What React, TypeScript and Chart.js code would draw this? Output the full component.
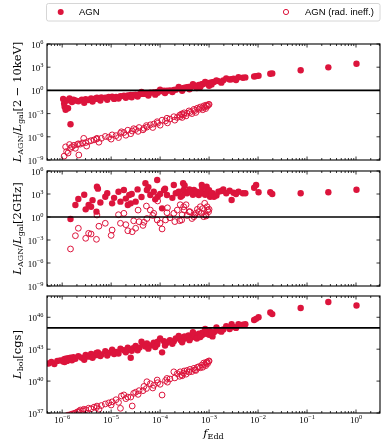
import React, { useEffect, useRef } from "react";
import { Chart, registerables } from "chart.js";

Chart.register(...registerables);

// ---------------- data (log10 values) ----------------
// AGN (filled circles): log10 f_Edd
const agnLogFEdd = [
  -6.28, -6.22, -6.16, -6.1, -6.04, -5.98, -5.96, -5.95, -5.93, -5.9, -5.88, -5.85, -5.83, -5.8, -5.77, -5.73,
  -5.67, -5.6, -5.52, -5.46, -5.41, -5.35, -5.3, -5.29, -5.27, -5.2, -5.12, -5.05, -4.98, -4.9, -4.81, -4.74,
  -4.66, -4.63, -4.6, -4.55, -4.5, -4.42, -4.35, -4.3, -4.27, -4.2, -4.13, -4.06, -4.05, -3.96, -3.92, -3.86,
  -3.8, -3.72, -3.68, -3.58, -3.53, -3.52, -3.5, -3.45, -3.42, -3.36, -3.31, -3.29, -3.21, -3.15, -3.14, -3.12,
  -3.05, -3.04, -2.98, -2.93, -2.9, -2.81, -2.71, -2.58, -2.54, -2.5, -2.31, -2.26, -2.08, -2.04, -1.99, -1.75,
  -1.71, -1.13, -0.565, 0.01,
  -5.55, -5.38, -5.22, -5.08, -4.94, -4.85, -4.7, -4.58, -4.46, -4.38, -4.24, -4.1, -4.0, -3.9, -3.75, -3.62,
  -3.55, -3.4, -3.33, -3.25, -3.18, -3.08, -3.0, -2.95, -2.85, -2.75, -2.65, -2.45, -2.4,
];
// log10 L_AGN / L_gal [2-10 keV]
const agnLogXray = [
  null, null, null, null, null, -1.1, -1.7, -2.1, -2.5, -1.3, -2.3, -1.05, -4.38, -1.5, -1.2, -1.3,
  -1.4, -1.2, -1.15, -1.25, -1.05, -1.1, -1.0, -0.95, -1.1, -0.9, -0.95, -0.85, -0.8, -0.85, -0.75, -0.7,
  -0.65, -0.75, -0.6, -0.6, -0.55, -0.5, -0.45, -0.4, -0.45, -0.3, -0.25, -0.2, -0.3, -0.1, -0.05, -0.05,
  0.0, 0.05, 0.1, 0.2, 0.3, 0.25, 0.35, 0.4, 0.45, 0.5, 0.55, 0.6, 0.7, 0.8, 0.75, 0.85,
  0.95, 0.9, 1.0, 1.05, 1.1, 1.2, 1.3, 1.4, 1.45, 1.5, 1.64, 1.68, 1.8, 1.85, 1.9, 2.15,
  2.2, 2.6, 2.98, 3.45,
  -1.6, -1.45, -1.3, -1.2, -1.1, -1.05, -0.95, -0.9, -0.8, -0.2, -0.65, -0.55, 0.1, -0.35, -0.2, 0.45,
  -0.05, 0.15, 0.8, 0.3, 0.45, 1.1, 0.6, 0.75, 1.3, 1.0, 1.55, 1.35, 1.7,
];
// log10 L_AGN / L_gal [2 GHz]
const agnLogRadio = [
  null, null, null, null, null, null, null, null, null, null, null, null, -0.26, null, null, 1.57,
  2.35, null, 1.0, 1.57, 1.34, null, 0.7, 3.95, 3.7, null, 2.65, null, 1.78, null, 2.0, 3.52,
  1.57, 2.87, 1.78, null, 2.0, null, null, 4.4, 3.52, 2.87, 3.3, 4.83, 2.65, 1.13, 3.52, 2.87,
  null, 4.17, 3.09, 2.65, 4.4, 3.52, 4.1, 3.09, 3.3, null, 3.52, 3.09, 2.87, 4.17, 3.8, 3.09,
  3.95, 3.3, 2.65, 3.09, 2.65, 3.3, 3.6, 3.43, 2.22, 3.17, 3.09, 3.09, 3.82, 4.17, 3.22, 3.22,
  3.0, 3.09, 3.22, 3.56,
  2.9, 2.2, 1.9, 3.1, 2.5, 3.3, 2.4, 3.0, 3.6, 2.6, 3.9, 2.3, 3.0, 3.7, 2.5, 3.3,
  2.8, 3.6, 2.9, 3.3, 3.2, 2.9, 3.5, 3.0, 2.8, 3.4, 3.1, 3.0, 3.3,
];
// log10 L_bol [cgs]
const agnLogLbol = [
  41.65, 41.8, 41.6, 41.9, 41.95, 41.85, 42.05, 41.8, 42.1, 41.9, 42.15, 42.0, 42.2, 41.95, 42.25, 42.1,
  42.35, 42.2, 42.45, 42.3, 42.55, 42.4, 42.65, 42.45, 42.7, 42.5, 42.8, 42.65, 42.95, 42.75, 43.05, 42.9,
  43.15, 42.95, 42.2, 43.1, 43.3, 43.15, 43.45, 43.25, 43.55, 43.35, 43.6, 43.45, 43.7, 42.7, 43.75, 43.6,
  43.85, 43.75, 44.0, 43.85, 44.1, 43.95, 44.2, 44.05, 44.3, 44.1, 44.35, 44.2, 44.45, 44.3, 44.55, 44.4,
  44.6, 44.45, 44.7, 44.2, 44.6, 44.75, 44.85, 44.9, 45.35, 45.1, 45.3, 45.35, 45.75, 45.85, 46.0, 46.45,
  46.3, 46.87, 47.43, 47.1,
  42.0, 42.2, 42.35, 42.4, 42.55, 42.6, 42.7, 42.85, 42.9, 43.7, 43.05, 43.2, 44.0, 43.35, 43.5, 44.25,
  43.65, 43.85, 44.6, 44.0, 44.15, 44.9, 44.35, 44.5, 45.05, 44.65, 45.15, 45.0, 45.35,
];

// AGN (rad. ineff., open circles): log10 f_Edd
const riLogFEdd = [
  -5.96, -5.93, -5.91, -5.88, -5.85, -5.83, -5.8, -5.76, -5.73, -5.69, -5.67, -5.66, -5.63, -5.58, -5.56, -5.52,
  -5.46, -5.41, -5.35, -5.3, -5.29, -5.2, -5.12, -5.05, -4.98, -4.9, -4.81, -4.79, -4.74, -4.66, -4.57, -4.54,
  -4.5, -4.43, -4.33, -4.28, -4.27, -4.2, -4.13, -4.06, -4.05, -3.96, -3.89, -3.86, -3.8, -3.72, -3.65, -3.6,
  -3.59, -3.56, -3.52, -3.51, -3.45, -3.41, -3.39, -3.31, -3.29, -3.24, -3.21, -3.18, -3.15, -3.11, -3.09, -3.06,
  -3.04, -3.01, -3.03, -3.0,
  -5.5, -5.25, -5.0, -4.85, -4.7, -4.6, -4.45, -4.35, -4.15, -4.0, -3.85, -3.7, -3.55, -3.47, -3.35, -3.27,
  -3.13, -3.07,
];
const riLogXray = [
  -8.5, -7.3, -7.9, -8.1, -7.0, -7.5, -7.28, -7.1, -7.49, -7.0, -6.9, -8.35, -6.95, -6.8, -6.2, -6.75,
  -6.6, -6.5, -6.4, -6.3, -6.2, -6.2, -5.95, -6.05, -5.75, -5.85, -5.55, -5.35, -5.45, -5.15, -5.25, -4.95,
  -5.05, -4.8, -4.9, -4.55, -4.75, -4.45, -4.35, -4.05, -4.25, -3.85, -3.95, -3.6, -3.7, -3.4, -3.5, -3.2,
  -3.4, -3.05, -3.15, -2.9, -2.95, -2.65, -2.85, -2.45, -2.6, -2.3, -2.45, -2.15, -2.3, -2.0, -2.15, -1.9,
  -2.05, -1.85, -1.95, -1.8,
  -7.2, -6.7, -6.3, -6.1, -5.8, -5.6, -5.3, -5.1, -4.8, -4.5, -4.2, -3.85, -3.5, -3.3, -3.0, -2.85,
  -2.5, -2.35,
];
const riLogRadio = [
  null, null, null, null, null, -4.17, null, null, -2.44, null, -1.47, null, null, null, null, -2.78,
  -2.13, -2.22, null, -2.91, 0.26, null, -0.82, null, -1.7, null, -0.82, null, 0.48, -1.79, -1.92, -0.5,
  -1.47, -0.61, -0.69, 1.43, -0.2, 0.9, 0.48, -0.39, 2.09, -1.56, -0.39, 0.56, -0.1, 0.48, 0.9, -0.48,
  1.6, -0.39, 1.34, 0.91, 0.2, 0.69, 0.69, 0.04, 0.26, 1.0, 0.69, 1.34, 0.48, 0.04, 1.79, 0.13,
  1.34, 0.69, 0.91, 1.0,
  null, -1.2, -2.4, 0.3, -1.0, null, 0.9, -1.1, 0.2, -0.8, 1.2, -0.6, 0.3, 1.6, -0.2, 0.5,
  1.1, 0.3,
];
const riLogLbol = [
  36.6, 36.7, 36.65, 36.8, 36.75, 36.85, 36.9, 36.95, 37.0, 37.1, 37.05, 37.15, 37.28, 37.2, 37.35, 37.3,
  37.45, 37.4, 37.55, 37.5, 37.65, 37.7, 37.85, 37.95, 38.05, 38.25, 37.44, 38.6, 38.7, 38.5, 37.66, 38.85,
  38.95, 39.1, 39.5, 39.3, 39.94, 39.75, 39.6, 40.1, 39.85, 38.69, 40.05, 40.25, 40.2, 40.87, 40.7, 40.45,
  40.87, 40.6, 40.75, 40.95, 41.0, 40.85, 41.1, 41.2, 41.05, 41.3, 41.35, 41.25, 41.5, 41.7, 41.55, 41.75,
  41.8, 41.85, 41.65, 41.9,
  37.0, 37.35, 37.75, 38.0, 38.35, 38.5, 38.75, 39.1, 39.35, 39.7, 39.9, 40.3, 40.5, 40.65, 40.9, 41.0,
  41.3, 41.45,
];

// axis ticks (exponents of 10) and reference lines
const xTickExps = [-6, -5, -4, -3, -2, -1, 0];
const ratioTickExps = [-9, -6, -3, 0, 3, 6];
const lbolTickExps = [37, 40, 43, 46];
const ratioUnity = 1;
const lbolLine = 1e45;
const legendLabels = ["AGN", "AGN (rad. ineff.)"];

// ---------------- styling ----------------
const CRIMSON = "#dc143c";
const SERIF = '"Liberation Serif", "DejaVu Serif", serif';
const TITLE_SERIF = '"DejaVu Serif", "Liberation Serif", serif';
const SANS = '"Liberation Sans", "DejaVu Sans", sans-serif';
const X_MIN = 10 ** -6.31;
const X_MAX = 10 ** 0.49;

type Seg = { t: string; size: number; italic?: boolean; dy?: number; fam?: string };

function segFont(s: Seg) {
  return `${s.italic ? "italic " : ""}${s.size}px ${s.fam || SERIF}`;
}

function drawRich(ctx: CanvasRenderingContext2D, segs: Seg[], x: number, y: number, align: "left" | "center" | "right") {
  let w = 0;
  const ws = segs.map((s) => {
    ctx.font = segFont(s);
    const m = ctx.measureText(s.t).width;
    w += m;
    return m;
  });
  let cx = align === "center" ? x - w / 2 : align === "right" ? x - w : x;
  ctx.textAlign = "left";
  ctx.textBaseline = "alphabetic";
  segs.forEach((s, i) => {
    ctx.font = segFont(s);
    ctx.fillText(s.t, cx, y + (s.dy || 0));
    cx += ws[i];
  });
}

function powSegs(e: number): Seg[] {
  return [
    { t: "10", size: 9 },
    { t: (e < 0 ? "\u2212" : "") + Math.abs(e), size: 6.4, dy: -4 },
  ];
}

const T = 11.5;
const S = 8;
const SD = 2.4;
const titleXray: Seg[] = [
  { t: "L", size: T, italic: true, fam: TITLE_SERIF },
  { t: "AGN", size: S, dy: SD, fam: TITLE_SERIF },
  { t: "/", size: T, fam: TITLE_SERIF },
  { t: "L", size: T, italic: true, fam: TITLE_SERIF },
  { t: "gal", size: S, dy: SD, fam: TITLE_SERIF },
  { t: "[2 \u2212 10keV]", size: T, fam: TITLE_SERIF },
];
const titleRadio: Seg[] = [
  { t: "L", size: T, italic: true, fam: TITLE_SERIF },
  { t: "AGN", size: S, dy: SD, fam: TITLE_SERIF },
  { t: "/", size: T, fam: TITLE_SERIF },
  { t: "L", size: T, italic: true, fam: TITLE_SERIF },
  { t: "gal", size: S, dy: SD, fam: TITLE_SERIF },
  { t: "[2GHz]", size: T, fam: TITLE_SERIF },
];
const titleLbol: Seg[] = [
  { t: "L", size: T, italic: true, fam: TITLE_SERIF },
  { t: "bol", size: S, dy: SD, fam: TITLE_SERIF },
  { t: "[cgs]", size: T, fam: TITLE_SERIF },
];
const titleX: Seg[] = [
  { t: "f", size: T, italic: true, fam: TITLE_SERIF },
  { t: "Edd", size: S, dy: SD, fam: TITLE_SERIF },
];

function pts(lx: number[], ly: (number | null)[]) {
  const out: { x: number; y: number }[] = [];
  lx.forEach((v, i) => {
    const w = ly[i];
    if (w !== null && w !== undefined) out.push({ x: 10 ** v, y: 10 ** w });
  });
  return out;
}

type Panel = {
  top: number;
  height: number;
  padTop: number;
  padBottom: number;
  yMin: number;
  yMax: number;
  yTicks: number[];
  hline: number;
  title: Seg[];
  filled: { x: number; y: number }[];
  open: { x: number; y: number }[];
  showX: boolean;
  legend: boolean;
};

const panels: Panel[] = [
  {
    top: 0, height: 172, padTop: 44, padBottom: 12, yMin: 1e-9, yMax: 1e6, yTicks: ratioTickExps, hline: ratioUnity,
    title: titleXray, filled: pts(agnLogFEdd, agnLogXray), open: pts(riLogFEdd, riLogXray), showX: false, legend: true,
  },
  {
    top: 155, height: 140, padTop: 16, padBottom: 9, yMin: 1e-9, yMax: 1e6, yTicks: ratioTickExps, hline: ratioUnity,
    title: titleRadio, filled: pts(agnLogFEdd, agnLogRadio), open: pts(riLogFEdd, riLogRadio), showX: false, legend: false,
  },
  {
    top: 282, height: 166, padTop: 14, padBottom: 35, yMin: 1e37, yMax: 1e48, yTicks: lbolTickExps, hline: lbolLine,
    title: titleLbol, filled: pts(agnLogFEdd, agnLogLbol), open: pts(riLogFEdd, riLogLbol), showX: true, legend: false,
  },
];

function decorPlugin(p: Panel) {
  return {
    id: "panelDecor",
    afterDatasetsDraw(chart: any) {
      const ctx: CanvasRenderingContext2D = chart.ctx;
      const a = chart.chartArea;
      const xs = chart.scales.x;
      const ys = chart.scales.y;
      ctx.save();
      ctx.strokeStyle = "#000";
      ctx.fillStyle = "#000";

      // reference line
      const hy = ys.getPixelForValue(p.hline);
      ctx.lineWidth = 1.6;
      ctx.beginPath();
      ctx.moveTo(a.left, hy);
      ctx.lineTo(a.right, hy);
      ctx.stroke();

      // frame
      ctx.lineWidth = 1.1;
      ctx.strokeRect(a.left, a.top, a.right - a.left, a.bottom - a.top);

      // x ticks (inward, top & bottom)
      ctx.lineWidth = 0.8;
      ctx.beginPath();
      for (let k = -7; k <= 0; k++) {
        for (let m = 1; m <= 9; m++) {
          const v = m * 10 ** k;
          if (v < X_MIN || v > X_MAX) continue;
          const px = xs.getPixelForValue(v);
          const len = m === 1 ? 3.5 : 2;
          ctx.moveTo(px, a.bottom);
          ctx.lineTo(px, a.bottom - len);
          ctx.moveTo(px, a.top);
          ctx.lineTo(px, a.top + len);
        }
      }
      // y ticks (inward, left & right)
      p.yTicks.forEach((e) => {
        const py = ys.getPixelForValue(10 ** e);
        ctx.moveTo(a.left, py);
        ctx.lineTo(a.left + 3.5, py);
        ctx.moveTo(a.right, py);
        ctx.lineTo(a.right - 3.5, py);
      });
      ctx.stroke();

      // y tick labels
      p.yTicks.forEach((e) => {
        const py = ys.getPixelForValue(10 ** e);
        drawRich(ctx, powSegs(e), a.left - 3.5, py + 4, "right");
      });

      // x tick labels + title
      if (p.showX) {
        xTickExps.forEach((e) => {
          const px = xs.getPixelForValue(10 ** e);
          drawRich(ctx, powSegs(e), px, a.bottom + 10, "center");
        });
        drawRich(ctx, titleX, (a.left + a.right) / 2, a.bottom + 23.5, "center");
      }

      // y title (rotated)
      ctx.save();
      ctx.translate(20.5, (a.top + a.bottom) / 2);
      ctx.rotate(-Math.PI / 2);
      drawRich(ctx, p.title, 0, 0, "center");
      ctx.restore();

      // legend
      if (p.legend) {
        ctx.beginPath();
        (ctx as any).roundRect(46.5, 3.5, 333.5, 17.5, 2);
        ctx.fillStyle = "#fff";
        ctx.fill();
        ctx.strokeStyle = "#cccccc";
        ctx.lineWidth = 0.8;
        ctx.stroke();
        ctx.fillStyle = CRIMSON;
        ctx.beginPath();
        ctx.arc(60.7, 12, 3, 0, Math.PI * 2);
        ctx.fill();
        ctx.strokeStyle = CRIMSON;
        ctx.lineWidth = 1;
        ctx.beginPath();
        ctx.arc(286, 12, 2.6, 0, Math.PI * 2);
        ctx.stroke();
        ctx.fillStyle = "#000";
        ctx.font = `9.5px ${SANS}`;
        ctx.textAlign = "left";
        ctx.textBaseline = "alphabetic";
        ctx.fillText(legendLabels[0], 79, 15.3);
        ctx.fillText(legendLabels[1], 305, 15.3);
      }
      ctx.restore();
    },
  };
}

function makeChart(canvas: HTMLCanvasElement, p: Panel) {
  return new Chart(canvas, {
    type: "scatter",
    data: {
      datasets: [
        {
          label: legendLabels[1],
          data: p.open,
          order: 0,
          pointRadius: 2.9,
          pointBackgroundColor: "rgba(255,255,255,0)",
          pointBorderColor: CRIMSON,
          pointBorderWidth: 1,
        },
        {
          label: legendLabels[0],
          data: p.filled,
          order: 1,
          pointRadius: 3.2,
          pointBackgroundColor: CRIMSON,
          pointBorderColor: CRIMSON,
          pointBorderWidth: 0,
        },
      ],
    },
    options: {
      responsive: false,
      maintainAspectRatio: false,
      animation: false,
      events: [],
      layout: { padding: { left: 47, right: 9, top: p.padTop, bottom: p.padBottom } },
      scales: {
        x: { type: "logarithmic", min: X_MIN, max: X_MAX, display: false },
        y: { type: "logarithmic", min: p.yMin, max: p.yMax, display: false },
      },
      plugins: { legend: { display: false }, tooltip: { enabled: false }, title: { display: false } },
    },
    plugins: [decorPlugin(p)],
  } as any);
}

export default function App() {
  const r1 = useRef<HTMLCanvasElement>(null);
  const r2 = useRef<HTMLCanvasElement>(null);
  const r3 = useRef<HTMLCanvasElement>(null);

  useEffect(() => {
    const refs = [r1, r2, r3];
    const charts = panels.map((p, i) => makeChart(refs[i].current as HTMLCanvasElement, p));
    return () => charts.forEach((c) => c.destroy());
  }, []);

  const refs = [r1, r2, r3];
  return (
    <div style={{ position: "absolute", left: 0, top: 0, width: 389, height: 448, background: "#fff" }}>
      {panels.map((p, i) => (
        <canvas
          key={i}
          ref={refs[i]}
          width={389}
          height={p.height}
          style={{ position: "absolute", left: 0, top: p.top, width: 389, height: p.height }}
        />
      ))}
    </div>
  );
}
